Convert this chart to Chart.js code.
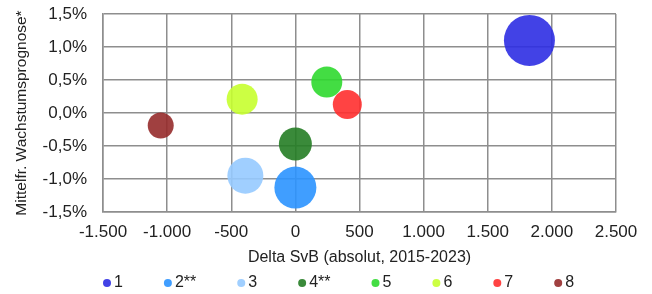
<!DOCTYPE html>
<html>
<head>
<meta charset="utf-8">
<script src="https://cdn.jsdelivr.net/npm/chart.js"></script>
<style>
  body { margin: 0; background: #fff; }
  canvas { display: block; }
</style>
</head>
<body>
<canvas id="chart" width="652" height="294"></canvas>
<script>
// Gruppen / Werte
const groupLabels = ['1', '2**', '3', '4**', '5', '6', '7', '8'];
const deltaSvB = [1825, 0, -390, 0, 245, -415, 405, -1050];   // x
const prognose = [1.10, -1.13, -0.95, -0.47, 0.47, 0.21, 0.13, -0.19]; // y in %
const bubbleSize = [25.5, 21, 18, 16.5, 15.5, 15.5, 14.5, 13];
const groupColors = [
  'rgba(45,45,227,0.9)',
  'rgba(43,147,255,0.9)',
  'rgba(150,202,255,0.9)',
  'rgba(37,125,37,0.9)',
  'rgba(47,217,47,0.9)',
  'rgba(198,255,47,0.9)',
  'rgba(255,47,47,0.9)',
  'rgba(150,43,43,0.9)'
];

const xMin = -1500, xMax = 2500, xStep = 500;
const yMin = -1.5, yMax = 1.5, yStep = 0.5;

const FONT = 'Liberation Sans, Arial, sans-serif';
const gridColor = '#8e8e8e';

function fmtThousands(v) {
  const s = Math.abs(v).toString().replace(/\B(?=(\d{3})+(?!\d))/g, '.');
  return (v < 0 ? '-' : '') + s;
}
function fmtPercent(v) {
  return v.toFixed(1).replace('.', ',') + '%';
}

const datasets = groupLabels.map((lbl, i) => ({
  label: lbl,
  data: [{ x: deltaSvB[i], y: prognose[i], r: bubbleSize[i] }],
  backgroundColor: groupColors[i],
  borderWidth: 0,
  hoverBorderWidth: 0
}));

// Legende unten, selbst gezeichnet (feste Abstände wie im Original)
const bottomLegend = {
  id: 'bottomLegend',
  afterDraw(chart) {
    const ctx = chart.ctx;
    ctx.save();
    ctx.font = '16px ' + FONT;
    ctx.textBaseline = 'middle';
    let x = 107;
    const y = 283;
    chart.data.datasets.forEach(ds => {
      ctx.beginPath();
      ctx.arc(x, y, 4, 0, Math.PI * 2);
      ctx.fillStyle = ds.backgroundColor;
      ctx.fill();
      ctx.fillStyle = '#222';
      ctx.fillText(ds.label, x + 7, y);
      x += 7 + ctx.measureText(ds.label).width + 45;
    });
    ctx.restore();
  }
};

new Chart(document.getElementById('chart'), {
  type: 'bubble',
  data: { datasets },
  options: {
    responsive: false,
    animation: false,
    clip: false,
    layout: { autoPadding: false, padding: { left: 0, right: 36, top: 14, bottom: 24 } },
    plugins: {
      legend: { display: false },
      tooltip: { enabled: false }
    },
    scales: {
      x: {
        type: 'linear',
        min: xMin, max: xMax,
        afterFit: s => { s.height = 58; s.paddingLeft = 0; s.paddingRight = 0; },
        ticks: {
          stepSize: xStep,
          padding: 10,
          color: '#222',
          font: { family: FONT, size: 17 },
          callback: v => fmtThousands(v)
        },
        grid: { color: gridColor, lineWidth: 1.5, drawTicks: false },
        border: { color: gridColor, width: 1.5 },
        title: {
          display: true,
          text: 'Delta SvB (absolut, 2015-2023)',
          color: '#222',
          font: { family: FONT, size: 16 },
          padding: { top: 0, bottom: 3 }
        }
      },
      y: {
        type: 'linear',
        min: yMin, max: yMax,
        afterFit: s => { s.width = 103; s.paddingTop = 0; s.paddingBottom = 0; },
        ticks: {
          stepSize: yStep,
          padding: 16,
          color: '#222',
          font: { family: FONT, size: 17 },
          callback: v => fmtPercent(v)
        },
        grid: { color: gridColor, lineWidth: 1.5, drawTicks: false },
        border: { color: gridColor, width: 1.5 },
        title: {
          display: true,
          text: 'Mittelfr. Wachstumsprognose*',
          color: '#222',
          font: { family: FONT, size: 15.5 },
          padding: { top: 12, bottom: 0 }
        }
      }
    }
  },
  plugins: [bottomLegend]
});
</script>
</body>
</html>
